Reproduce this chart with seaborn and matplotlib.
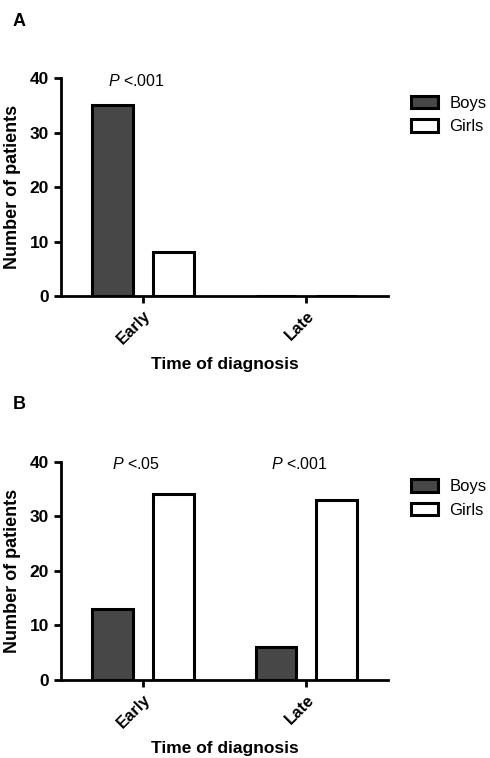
import pandas as pd
import matplotlib
matplotlib.use("Agg")
import matplotlib.pyplot as plt
import seaborn as sns
from matplotlib.patches import Patch

# dados
categorias = ["Early", "Late"]
grupos = ["Boys", "Girls"]
boys_a = [35, 0]
girls_a = [8, 0]
boys_b = [13, 6]
girls_b = [34, 33]
pvals_a = ["<.001", ""]
pvals_b = ["<.05", "<.001"]
cores = {"Boys": "#474747", "Girls": "#ffffff"}

sns.set_style("ticks")
plt.rcParams["font.family"] = ["Liberation Sans", "DejaVu Sans"]
plt.rcParams["mathtext.fontset"] = "custom"
plt.rcParams["mathtext.it"] = "Liberation Sans:italic"
plt.rcParams["mathtext.rm"] = "Liberation Sans"
for k in ["text.color", "axes.labelcolor", "xtick.color", "ytick.color",
          "axes.edgecolor"]:
    plt.rcParams[k] = "black"


def monta_df(boys, girls):
    return pd.DataFrame({
        "Tempo": categorias * 2,
        "Sexo": ["Boys"] * 2 + ["Girls"] * 2,
        "N": boys + girls,
    })


fig = plt.figure(figsize=(4.9, 7.58), dpi=100)
ax_a = fig.add_axes([0.1245, 0.6095, 0.6675, 0.2875])
ax_b = fig.add_axes([0.1245, 0.103, 0.6675, 0.288])

paineis = [(ax_a, monta_df(boys_a, girls_a), pvals_a, "A", 0.971),
           (ax_b, monta_df(boys_b, girls_b), pvals_b, "B", 0.466)]

for ax, df, pv, letra, ypos in paineis:
    sns.barplot(data=df, x="Tempo", y="N", hue="Sexo", order=categorias,
                hue_order=grupos, palette=cores, width=0.744, gap=0.33,
                edgecolor="black", linewidth=2.2, ax=ax, legend=False,
                errorbar=None, saturation=1)
    ax.set_xlim(-0.5, 1.5)
    ax.set_ylim(0, 40)
    ax.set_yticks([0, 10, 20, 30, 40])
    sns.despine(ax=ax)
    for s in ["left", "bottom"]:
        ax.spines[s].set_linewidth(2)
    ax.tick_params(width=2, length=5, labelsize=12.5)
    for t in ax.get_yticklabels():
        t.set_fontweight("bold")
    ax.set_xticks(range(len(categorias)))
    ax.set_xticklabels(categorias, rotation=45, ha="right",
                       rotation_mode="anchor", fontsize=12, fontweight="bold")
    ax.set_ylabel("Number of patients", fontsize=13, fontweight="bold",
                  labelpad=6)
    ax.set_xlabel("Time of diagnosis", fontsize=12.5, fontweight="bold",
                  labelpad=7)
    for i, p in enumerate(pv):
        if p:
            ax.text(i - 0.04, 39.5, r"$\it{P}$ " + p, ha="center",
                    va="center", fontsize=11.5)
    handles = [Patch(facecolor=cores[g], edgecolor="black", linewidth=2.2,
                     label=g) for g in grupos]
    ax.legend(handles=handles, loc="upper left", bbox_to_anchor=(1.07, 0.92),
              frameon=False, fontsize=12, handlelength=1.6,
              handleheight=0.8, labelspacing=0.5, borderpad=0,
              borderaxespad=0, handletextpad=0.7)
    fig.text(0.025, ypos, letra, fontsize=13, fontweight="bold", va="center")

fig.savefig("out.png", dpi=100)
